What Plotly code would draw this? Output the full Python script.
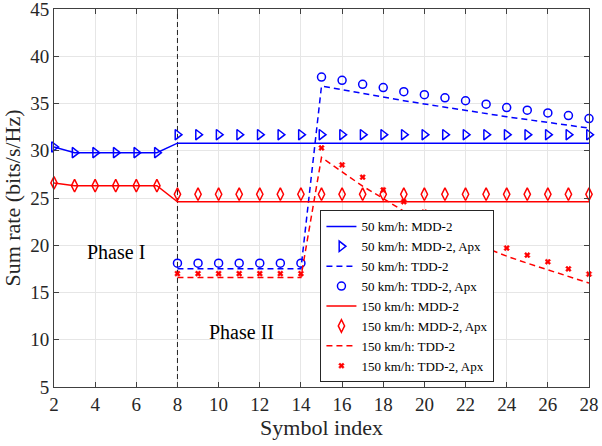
import plotly.graph_objects as go

# Symbol indices
sym_all = [2, 3, 4, 5, 6, 7, 8, 9, 10, 11, 12, 13, 14, 15, 16, 17, 18, 19, 20,
           21, 22, 23, 24, 25, 26, 27, 28]
sym_tdd = [8, 9, 10, 11, 12, 13, 14, 15, 16, 17, 18, 19, 20, 21, 22, 23, 24, 25,
           26, 27, 28]

# 50 km/h
mdd50 = [30.4, 29.8, 29.8, 29.8, 29.8, 29.8, 30.8, 30.8, 30.8, 30.8, 30.8, 30.8,
         30.8, 30.8, 30.8, 30.8, 30.8, 30.8, 30.8, 30.8, 30.8, 30.8, 30.8, 30.8,
         30.8, 30.8, 30.8]
mdd50_apx = [30.4, 29.8, 29.8, 29.8, 29.8, 29.8, 31.7, 31.7, 31.7, 31.7, 31.7,
             31.7, 31.7, 31.7, 31.7, 31.7, 31.7, 31.7, 31.7, 31.7, 31.7, 31.7,
             31.7, 31.7, 31.7, 31.7, 31.7]
tdd50 = [17.5, 17.5, 17.5, 17.5, 17.5, 17.5, 17.5, 36.85, 36.45, 36.05, 35.7,
         35.3, 34.95, 34.6, 34.25, 33.95, 33.6, 33.3, 33.0, 32.7, 32.4]
tdd50_apx = [18.1, 18.1, 18.1, 18.1, 18.1, 18.1, 18.1, 37.8, 37.45, 37.03, 36.68,
             36.25, 35.93, 35.6, 35.29, 34.93, 34.57, 34.29, 34.0, 33.72, 33.4]

# 150 km/h
mdd150 = [26.6, 26.3, 26.3, 26.3, 26.3, 26.3, 24.6, 24.6, 24.6, 24.6, 24.6, 24.6,
          24.6, 24.6, 24.6, 24.6, 24.6, 24.6, 24.6, 24.6, 24.6, 24.6, 24.6, 24.6,
          24.6, 24.6, 24.6]
mdd150_apx = [26.6, 26.3, 26.3, 26.3, 26.3, 26.3, 25.4, 25.4, 25.4, 25.4, 25.4,
              25.4, 25.4, 25.4, 25.4, 25.4, 25.4, 25.4, 25.4, 25.4, 25.4, 25.4,
              25.4, 25.4, 25.4, 25.4, 25.4]
tdd150 = [16.6, 16.6, 16.6, 16.6, 16.6, 16.6, 16.6, 29.3, 27.8, 26.25, 24.95,
          23.6, 22.5, 21.5, 20.5, 19.7, 18.85, 18.1, 17.4, 16.7, 16.0]
tdd150_apx = [17.0, 17.0, 17.0, 17.0, 17.0, 17.0, 17.0, 30.3, 28.5, 27.2, 25.85,
              24.6, 23.5, 22.5, 21.5, 20.6, 19.7, 18.95, 18.25, 17.5, 16.95]

# Phase boundary
phase_x = [8, 8]
phase_y = [5, 45]

x_ticks = [2, 4, 6, 8, 10, 12, 14, 16, 18, 20, 22, 24, 26, 28]
y_ticks = [5, 10, 15, 20, 25, 30, 35, 40, 45]

BLUE = "#0000FF"
RED = "#FF0000"
FONT = "Liberation Serif"
DASH = "6px,4px"

fig = go.Figure()

fig.add_trace(go.Scatter(x=phase_x, y=phase_y, mode="lines", showlegend=False,
                         line=dict(color="#222222", width=1, dash="5px,3px"),
                         hoverinfo="skip"))

fig.add_trace(go.Scatter(x=sym_all, y=mdd50, mode="lines", name="50 km/h: MDD-2",
                         line=dict(color=BLUE, width=1.5)))
fig.add_trace(go.Scatter(x=sym_all, y=mdd50_apx, mode="markers",
                         name="50 km/h: MDD-2, Apx",
                         marker=dict(symbol="triangle-right-open", size=9,
                                     color=BLUE, line=dict(width=1.5))))
fig.add_trace(go.Scatter(x=sym_tdd, y=tdd50, mode="lines", name="50 km/h: TDD-2",
                         line=dict(color=BLUE, width=1.5, dash=DASH)))
fig.add_trace(go.Scatter(x=sym_tdd, y=tdd50_apx, mode="markers",
                         name="50 km/h: TDD-2, Apx",
                         marker=dict(symbol="circle-open", size=8, color=BLUE,
                                     line=dict(width=1.5))))
fig.add_trace(go.Scatter(x=sym_all, y=mdd150, mode="lines", name="150 km/h: MDD-2",
                         line=dict(color=RED, width=1.5)))
fig.add_trace(go.Scatter(x=sym_all, y=mdd150_apx, mode="markers",
                         name="150 km/h: MDD-2, Apx",
                         marker=dict(symbol="diamond-tall-open", size=9, color=RED,
                                     line=dict(width=1.5))))
fig.add_trace(go.Scatter(x=sym_tdd, y=tdd150, mode="lines", name="150 km/h: TDD-2",
                         line=dict(color=RED, width=1.5, dash=DASH)))
fig.add_trace(go.Scatter(x=sym_tdd, y=tdd150_apx, mode="markers",
                         name="150 km/h: TDD-2, Apx",
                         marker=dict(symbol="x", size=5, color=RED,
                                     line=dict(width=0.5, color=RED))))

fig.update_traces(cliponaxis=False)

axis_common = dict(
    showline=True, linecolor="#404040", linewidth=1, mirror="allticks",
    ticks="inside", ticklen=5, tickcolor="#404040",
    showgrid=True, gridcolor="#E6E6E6", gridwidth=1, zeroline=False,
    tickfont=dict(family=FONT, size=19, color="#262626"),
    ticklabeloverflow="allow", automargin=False,
)

fig.update_xaxes(range=[2, 28], tickvals=x_ticks,
                 title=dict(text="Symbol index", standoff=4,
                            font=dict(family=FONT, size=22, color="#262626")),
                 **axis_common)
fig.update_yaxes(range=[5, 45], tickvals=y_ticks,
                 title=dict(text="Sum rate (bits/s/Hz)", standoff=4,
                            font=dict(family=FONT, size=22, color="#262626")),
                 **axis_common)

fig.add_annotation(x=5, y=19.3, text="Phase I", showarrow=False,
                   font=dict(family=FONT, size=20, color="#000000"))
fig.add_annotation(x=11.1, y=10.8, text="Phase II", showarrow=False,
                   font=dict(family=FONT, size=20, color="#000000"))

fig.update_layout(
    width=602, height=446,
    margin=dict(l=54, r=13, t=9, b=59, autoexpand=False),
    paper_bgcolor="white", plot_bgcolor="white",
    font=dict(family=FONT, color="#262626"),
    legend=dict(x=0.498, y=0.012, xanchor="left", yanchor="bottom",
                bgcolor="white", bordercolor="#262626", borderwidth=1,
                font=dict(family=FONT, size=13, color="#000000"),
                itemwidth=30, tracegroupgap=0),
)

fig.write_html("out.html")
